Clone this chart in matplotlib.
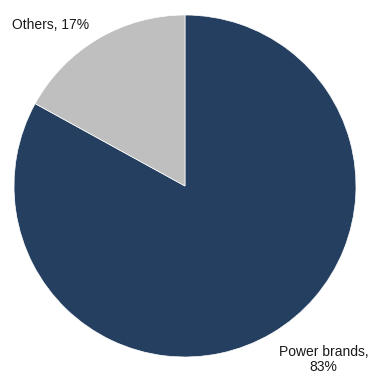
import matplotlib.pyplot as plt
from matplotlib import font_manager

# Daten
labels = ['Power brands', 'Others']
shares = [83, 17]
colors = ['#243F60', '#BFBFBF']

names = {f.name for f in font_manager.fontManager.ttflist}
fam = ['Liberation Sans Narrow', 'Liberation Sans', 'DejaVu Sans']
fam = [f for f in fam if f in names] or ['DejaVu Sans']
plt.rcParams['font.family'] = fam

fig = plt.figure(figsize=(3.72, 3.77), dpi=100)
ax = fig.add_axes([14 / 372, 20 / 377, 342 / 372, 342 / 377])

ax.pie(shares, colors=colors, startangle=90, counterclock=False,
       radius=1.0, wedgeprops=dict(edgecolor='white', linewidth=0.5))

ax.set_xlim(-1, 1)
ax.set_ylim(-1, 1)
ax.set_aspect('auto')
ax.axis('off')

ax.text(-0.787, 0.942, f'{labels[1]}, {shares[1]}%', ha='center', va='center',
        fontsize=10, color='#1a1a1a', clip_on=False)
ax.text(0.81, -1.012, f'{labels[0]},\n{shares[0]}%', ha='center', va='center',
        fontsize=10, color='#1a1a1a', linespacing=1.1, clip_on=False)

fig.savefig('out.png', dpi=100)
